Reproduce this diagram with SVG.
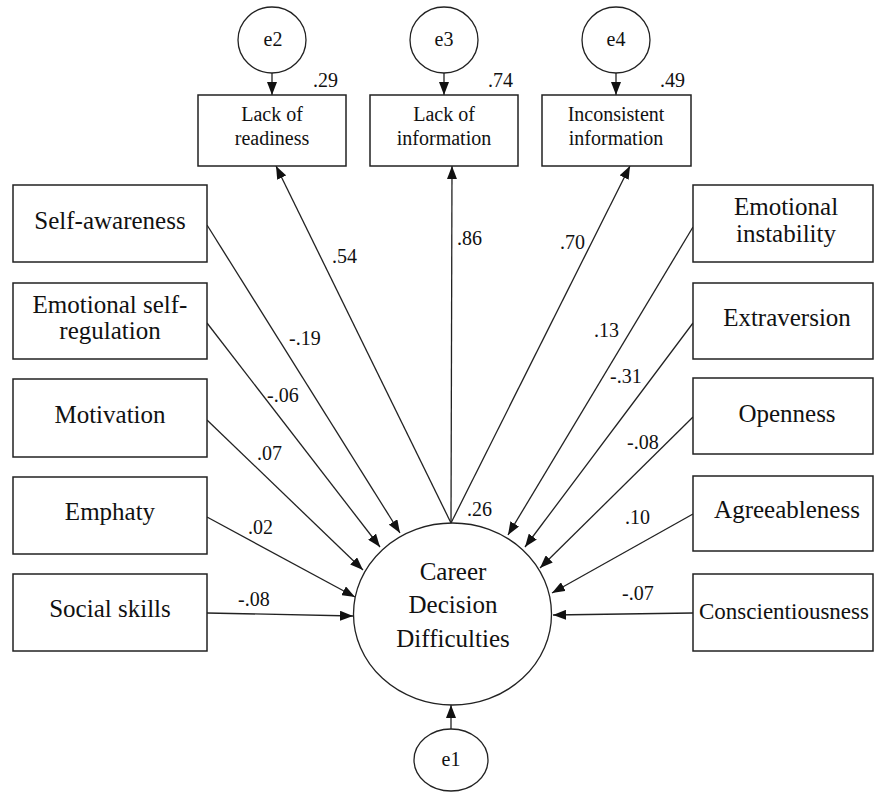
<svg xmlns="http://www.w3.org/2000/svg" width="874" height="793" viewBox="0 0 874 793">
<style>
.box{fill:#fff;stroke:#222;stroke-width:1.5}
.ell{fill:#fff;stroke:#222;stroke-width:1.3}
.t{fill:#111;text-anchor:middle}
.lab{font-size:25px}
.sm{font-size:20px}
.num{fill:#111;font-size:20px}
.c line{stroke:#222;stroke-width:1.3;marker-end:url(#ah)}
</style>
<defs>
<marker id="ah" markerWidth="14" markerHeight="10" refX="13" refY="5" orient="auto" markerUnits="userSpaceOnUse">
<path d="M0,0 L13,5 L0,10 Z" fill="#111"/>
</marker>
</defs>
<rect width="874" height="793" fill="#fff"/>

<g class="c" id="connectors">
<line x1="207" y1="225" x2="400" y2="533"/>
<line x1="207" y1="323" x2="380" y2="547"/>
<line x1="207" y1="420" x2="363" y2="570"/>
<line x1="207" y1="517" x2="355" y2="597"/>
<line x1="207" y1="613" x2="353" y2="616"/>
<line x1="693" y1="227" x2="508" y2="535"/>
<line x1="693" y1="323" x2="525" y2="547"/>
<line x1="693" y1="417" x2="540" y2="568"/>
<line x1="693" y1="514" x2="552" y2="593"/>
<line x1="693" y1="613" x2="553" y2="615"/>
<line x1="451" y1="523" x2="276" y2="166"/>
<line x1="451" y1="523" x2="452" y2="166"/>
<line x1="451" y1="523" x2="630" y2="166"/>
<line x1="272" y1="73" x2="272" y2="95"/>
<line x1="444" y1="73" x2="444" y2="95"/>
<line x1="616" y1="73" x2="616" y2="95"/>
<line x1="451" y1="729" x2="451" y2="705"/>
</g>

<g font-family="Liberation Serif, Times New Roman, DejaVu Serif, serif">
<g id="labels">
<text class="num" x="332" y="263">.54</text>
<text class="num" x="289" y="345">-.19</text>
<text class="num" x="267" y="402">-.06</text>
<text class="num" x="257" y="460">.07</text>
<text class="num" x="248" y="534">.02</text>
<text class="num" x="238" y="606">-.08</text>
<text class="num" x="457" y="245">.86</text>
<text class="num" x="560" y="249">.70</text>
<text class="num" x="594" y="337">.13</text>
<text class="num" x="610" y="383">-.31</text>
<text class="num" x="627" y="449">-.08</text>
<text class="num" x="467" y="516">.26</text>
<text class="num" x="625" y="524">.10</text>
<text class="num" x="622" y="600">-.07</text>
<text class="num" x="313" y="87">.29</text>
<text class="num" x="488" y="87">.74</text>
<text class="num" x="660" y="87">.49</text>
</g>

<g id="e2"><ellipse class="ell" cx="272" cy="40" rx="34" ry="33"/><text class="t sm" x="273" y="46">e2</text></g>
<g id="e3"><ellipse class="ell" cx="444" cy="40" rx="34" ry="33"/><text class="t sm" x="444" y="46">e3</text></g>
<g id="e4"><ellipse class="ell" cx="616" cy="40" rx="34" ry="33"/><text class="t sm" x="616" y="46">e4</text></g>

<g id="lack-readiness"><rect class="box" x="198" y="95" width="148" height="71"/><text class="t sm" x="272" y="121">Lack of</text><text class="t sm" x="272" y="145">readiness</text></g>
<g id="lack-information"><rect class="box" x="370" y="95" width="148" height="71"/><text class="t sm" x="444" y="121">Lack of</text><text class="t sm" x="444" y="145">information</text></g>
<g id="inconsistent-information"><rect class="box" x="542" y="95" width="149" height="71"/><text class="t sm" x="616" y="121">Inconsistent</text><text class="t sm" x="616" y="145">information</text></g>

<g id="self-awareness"><rect class="box" x="13" y="185" width="194" height="77"/><text class="t lab" x="110" y="229">Self-awareness</text></g>
<g id="emotional-self-regulation"><rect class="box" x="13" y="283" width="194" height="76"/><text class="t lab" x="110" y="313">Emotional self-</text><text class="t lab" x="110" y="339">regulation</text></g>
<g id="motivation"><rect class="box" x="13" y="379" width="194" height="78"/><text class="t lab" x="110" y="423">Motivation</text></g>
<g id="emphaty"><rect class="box" x="13" y="477" width="194" height="77"/><text class="t lab" x="110" y="520">Emphaty</text></g>
<g id="social-skills"><rect class="box" x="13" y="574" width="194" height="77"/><text class="t lab" x="110" y="617">Social skills</text></g>

<g id="emotional-instability"><rect class="box" x="693" y="185" width="180" height="77"/><text class="t lab" x="786" y="215">Emotional</text><text class="t lab" x="786" y="242">instability</text></g>
<g id="extraversion"><rect class="box" x="693" y="283" width="180" height="76"/><text class="t lab" x="787" y="326">Extraversion</text></g>
<g id="openness"><rect class="box" x="693" y="378" width="180" height="76"/><text class="t lab" x="787" y="422">Openness</text></g>
<g id="agreeableness"><rect class="box" x="693" y="476" width="180" height="75"/><text class="t lab" x="787" y="518">Agreeableness</text></g>
<g id="conscientiousness"><rect class="box" x="693" y="574" width="180" height="77"/><text class="t" style="text-anchor:start;font-size:23px" x="699" y="619">Conscientiousness</text></g>

<g id="career-decision-difficulties"><ellipse class="ell" cx="452.5" cy="614" rx="99" ry="91"/><text class="t lab" x="453" y="580">Career</text><text class="t lab" x="453" y="613">Decision</text><text class="t lab" x="453" y="647">Difficulties</text></g>

<g id="e1"><ellipse class="ell" cx="451" cy="760" rx="37" ry="31"/><text class="t sm" x="451" y="766">e1</text></g>
</g>
</svg>
